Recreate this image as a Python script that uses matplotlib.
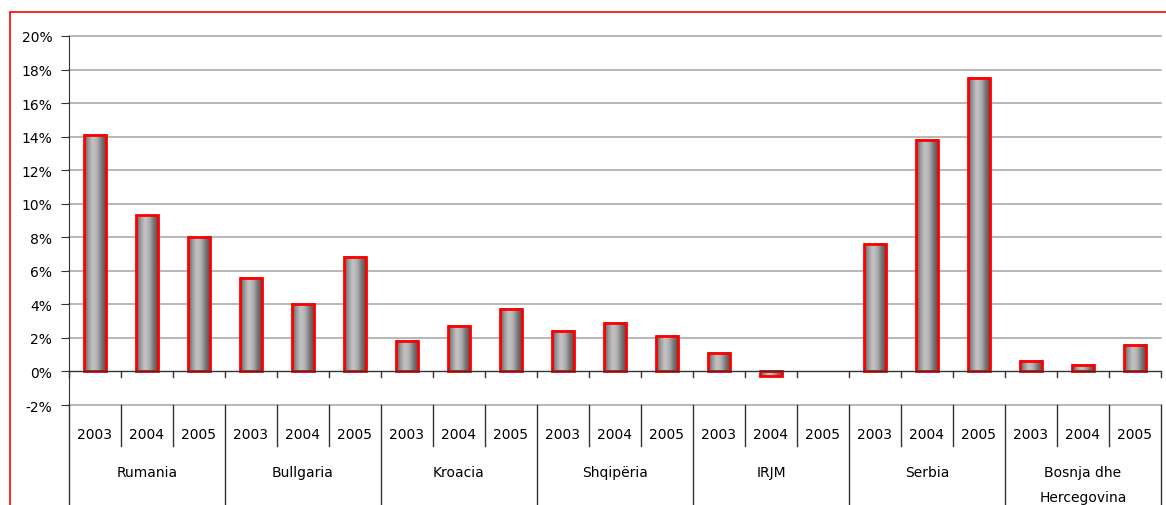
import numpy as np
import matplotlib
matplotlib.use("Agg")
import matplotlib.pyplot as plt
from matplotlib.patches import Rectangle
from matplotlib.colors import LinearSegmentedColormap

# data
countries = ['Rumania', 'Bullgaria', 'Kroacia', 'Shqipëria', 'IRJM', 'Serbia', 'Bosnja dhe\nHercegovina']
years = ['2003', '2004', '2005']
rumania = [14.1, 9.3, 8.0]
bullgaria = [5.6, 4.0, 6.8]
kroacia = [1.8, 2.7, 3.7]
shqiperia = [2.4, 2.9, 2.1]
irjm = [1.1, -0.3, np.nan]
serbia = [7.6, 13.8, 17.5]
bosnja = [0.6, 0.4, 1.6]
values = rumania + bullgaria + kroacia + shqiperia + irjm + serbia + bosnja

plt.rcParams['font.family'] = ['DejaVu Sans']

fig = plt.figure(figsize=(11.66, 5.06), dpi=100)
ax = fig.add_axes([69/1166, 1 - 406/506, (1161 - 69)/1166, (406 - 37)/506])

# cylinder-like horizontal gradient
cmap = LinearSegmentedColormap.from_list('cyl', ['#5a5a5a', '#9a9a9a', '#c4c4c4', '#b0b0b0', '#7a7a7a', '#505050'])
grad = np.linspace(0, 1, 64).reshape(1, -1)

n = len(values)
xs = np.arange(n) + 0.5
w = 0.42
for x, v in zip(xs, values):
    if np.isnan(v):
        continue
    lo, hi = min(0, v), max(0, v)
    ax.imshow(grad, cmap=cmap, extent=(x - w/2, x + w/2, lo, hi), aspect='auto', zorder=3)
    ax.add_patch(Rectangle((x - w/2, lo), w, hi - lo, fill=False, edgecolor='#ff0000', lw=2, zorder=4))

ax.set_xlim(0, n)
ax.set_ylim(-2, 20)
ax.set_yticks(np.arange(-2, 21, 2))
ax.set_yticklabels([f'{t}%' for t in range(-2, 21, 2)], fontsize=10)
ax.tick_params(axis='y', direction='out', length=6, color='#333333', pad=6)
for t in range(-2, 21, 2):
    if t != 0:
        ax.axhline(t, color='#acacac', lw=1.2, zorder=0, clip_on=False)
ax.set_xticks([])
for s in ['top', 'right', 'bottom']:
    ax.spines[s].set_visible(False)
ax.spines['left'].set_color('#333333')

# category axis at 0 with tick marks
ax.axhline(0, color='#333333', lw=1, zorder=5)
for b in range(n + 1):
    ax.plot([b, b], [0, -0.35], color='#333333', lw=1, clip_on=False, zorder=5)

# label table below the plot
for b in range(n + 1):
    if b % 3 == 0:
        ax.plot([b, b], [-2, -8.5], color='#333333', lw=1, clip_on=False)
    else:
        ax.plot([b, b], [-2, -4.45], color='#333333', lw=1, clip_on=False)
for i, x in enumerate(xs):
    ax.text(x, -3.75, years[i % 3], ha='center', va='center', fontsize=10, clip_on=False)
for g, c in enumerate(countries):
    ax.text(g * 3 + 1.5, -6.0 if '\n' not in c else -6.75, c, ha='center', va='center',
            fontsize=10, linespacing=1.95, clip_on=False)

# red frame
fig.add_artist(Rectangle((9.5/1166, -0.1), 1.2, 1.1 - 12.5/506, transform=fig.transFigure,
                         fill=False, edgecolor='#ff0000', lw=1.2))

fig.savefig('out.png', dpi=100)
